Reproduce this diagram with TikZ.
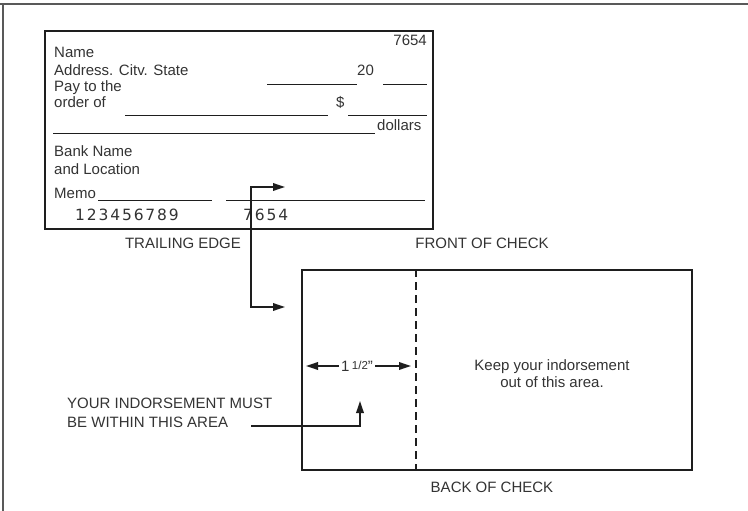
\documentclass[tikz,border=0pt]{standalone}
\usepackage{fontspec}
\setmainfont{Liberation Sans}
\newfontfamily\micrfont[LetterSpace=12]{DejaVu Sans}
\usetikzlibrary{arrows.meta, positioning, calc}

\definecolor{tinta}{HTML}{333333}
\definecolor{traco}{HTML}{1E1E1E}

\tikzset{
  txt/.style={inner sep=0pt, anchor=base west, text=tinta},
  rotulo/.style={inner sep=0pt, anchor=base, text=tinta},
  linha/.style={draw=traco, line width=0.8pt},
  borda/.style={draw=traco, line width=1.6pt},
  seta/.style={draw=traco, line width=1.8pt, -{Triangle[length=12pt,width=7.5pt]}}
}

\begin{document}
\begin{tikzpicture}[x=1pt, y=-1pt, font=\fontsize{15}{15}\selectfont]
  \useasboundingbox (0,0) rectangle (748,511);

  % ---------- moldura ----------
  \draw[draw=gray!70!black, line width=1.4pt] (0,4) -- (748,4);
  \draw[draw=gray!70!black, line width=1.4pt] (3,4) -- (3,511);

  % ---------- frente do cheque ----------
  \node[borda, anchor=north west, inner sep=0pt,
        minimum width=388pt, minimum height=198pt] (frente) at (44,30) {};
  \node[txt, anchor=base east] (numero) at (427,46) {7654};
  \node[txt] (nome)   at (54,58)  {Name};
  \node[txt] (ender)  at (54,76)  {Address. Citv. State};
  \node[txt] (pague)  at (54,92)  {Pay to the};
  \node[txt] (ordem)  at (54,107) {order of};
  \node[txt] (banco)  at (54,157) {Bank Name};
  \node[txt] (local)  at (54,174) {and Location};
  \node[txt] (memo)   at (54,198) {Memo};
  \node[txt] (ano)    at (357,76) {20};
  \node[txt] (cifrao) at (336,107) {\$};
  \node[txt] (dolar)  at (377,131) {dollars};
  % linhas de preenchimento
  \foreach \xa/\xb/\yy in {267/357/84, 383/427/84, 125/328/115, 348/427/115,
                           53/375/133, 98/212/200, 226/425/200}{
    \draw[linha] (\xa,\yy) -- (\xb,\yy);
  }
  % linha MICR
  \node[txt, font=\fontsize{15.5}{15.5}\micrfont] (conta)  at (75,220)  {123456789};
  \node[txt, font=\fontsize{15.5}{15.5}\micrfont] (numchq) at (243,220) {7654};

  \node[rotulo] (borda) at (183,248) {TRAILING EDGE};
  \node[rotulo] (tfrente) at (482,248) {FRONT OF CHECK};

  % ---------- verso do cheque ----------
  \node[borda, anchor=north west, inner sep=0pt,
        minimum width=390pt, minimum height=200pt] (verso) at (301,269) {};
  \draw[draw=traco, line width=1.6pt, dash pattern=on 8pt off 5pt]
       (416,269) -- (416,469);
  \node[rotulo, align=center, font=\fontsize{15}{17}\selectfont] (fora) at (552,387)
       {Keep your indorsement\\out of this area.};
  \node[rotulo] (tverso) at (492,492) {BACK OF CHECK};

  % largura de 1 1/2"
  \node[inner sep=2pt, text=tinta] (larg) at (357,366)
       {1\,\raisebox{1.5pt}{\fontsize{11.5}{11.5}\selectfont 1/2}"};
  \coordinate (tracejado) at (416,366);
  \draw[seta, shorten >=5pt] (larg.west) -- (verso.west |- larg);
  \draw[seta, shorten >=5pt] (larg.east) -- (tracejado);

  % ---------- setas ----------
  \coordinate (saida) at (285,187);
  \coordinate (entrada) at (285,307);
  \draw[draw=traco, line width=1.8pt,
        {Triangle[length=12pt,width=7.5pt]}-{Triangle[length=12pt,width=7.5pt]}]
       (saida) -- ++(-34,0) |- (entrada);

  \node[txt] (aviso1) at (67,408) {YOUR INDORSEMENT MUST};
  \node[txt] (aviso2) at (67,427) {BE WITHIN THIS AREA};
  \coordinate (inicio) at (251,426);
  \coordinate (alvo) at (360,401);
  \draw[seta] (inicio) -| (alvo);
\end{tikzpicture}
\end{document}
